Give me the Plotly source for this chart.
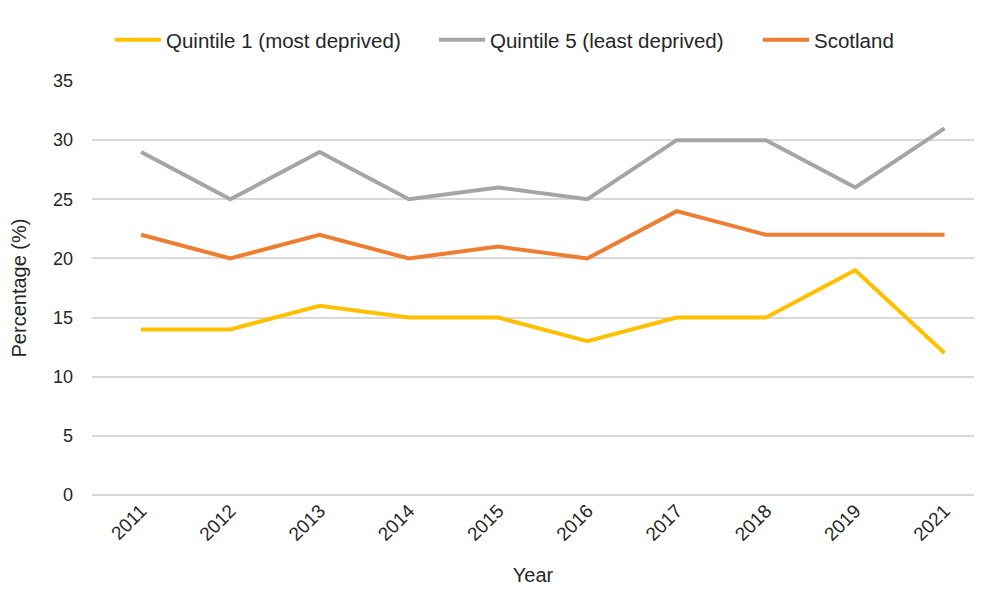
import plotly.graph_objects as go

# categories and series
YEARS = ['2011', '2012', '2013', '2014', '2015', '2016', '2017', '2018', '2019', '2021']
QUINTILE_1 = [14, 14, 16, 15, 15, 13, 15, 15, 19, 12]
QUINTILE_5 = [29, 25, 29, 25, 26, 25, 30, 30, 26, 31]
SCOTLAND = [22, 20, 22, 20, 21, 20, 24, 22, 22, 22]

Y_TICKS = [0, 5, 10, 15, 20, 25, 30, 35]

# series name -> (values, colour, legend id, legend left edge in window px)
series = [
    ('Quintile 1 (most deprived)', QUINTILE_1, '#FFC000', 'legend', 116),
    ('Quintile 5 (least deprived)', QUINTILE_5, '#A5A5A5', 'legend2', 440),
    ('Scotland', SCOTLAND, '#ED7D31', 'legend3', 764),
]

FONT = 'Liberation Sans, Arial, sans-serif'

# page body has an 8px margin, keep the figure inside the window so no scrollbars appear
OFFSET = 8
W, H = 982 - 2 * OFFSET, 594 - 2 * OFFSET

fig = go.Figure()

legends = {}
for name, values, colour, leg, left in series:
    fig.add_trace(go.Scatter(
        x=YEARS,
        y=values,
        name=name,
        mode='lines',
        line=dict(color=colour, width=4),
        legend=leg,
    ))
    # one legend per series so each entry can sit where it is in the reference
    legends[leg] = dict(
        orientation='h',
        xref='container', yref='container',
        x=(left - OFFSET - 6) / W, xanchor='left',
        y=1 - (40 - OFFSET) / H, yanchor='middle',
        font=dict(size=20.5),
        itemwidth=46,
        bgcolor='rgba(0,0,0,0)',
    )

fig.update_layout(
    width=W,
    height=H,
    plot_bgcolor='white',
    paper_bgcolor='white',
    margin=dict(l=92 - OFFSET, r=0, t=81 - OFFSET, b=H + OFFSET - 495, autoexpand=False),
    font=dict(family=FONT, size=18, color='#262626'),
    showlegend=True,
    **legends,
)

fig.update_xaxes(
    type='category',
    # first category sits ~0.57 of a step in from the left gridline end
    range=[-0.55, 9.33],
    tickangle=-45,
    showgrid=False,
    showline=False,
    ticks='',
    tickfont=dict(size=19),
    automargin=True,
    title=dict(text='Year', font=dict(size=20), standoff=30),
)

fig.update_yaxes(
    range=[0, 35],
    tickvals=Y_TICKS,
    showgrid=True,
    gridcolor='#D9D9D9',
    gridwidth=1.5,
    zeroline=True,
    zerolinecolor='#D9D9D9',
    zerolinewidth=1.5,
    ticks='',
    tickfont=dict(size=18),
    ticklabelstandoff=18,
    automargin=False,
    title=dict(text='Percentage (%)', font=dict(size=20), standoff=30),
)

fig.write_html('out.html')
